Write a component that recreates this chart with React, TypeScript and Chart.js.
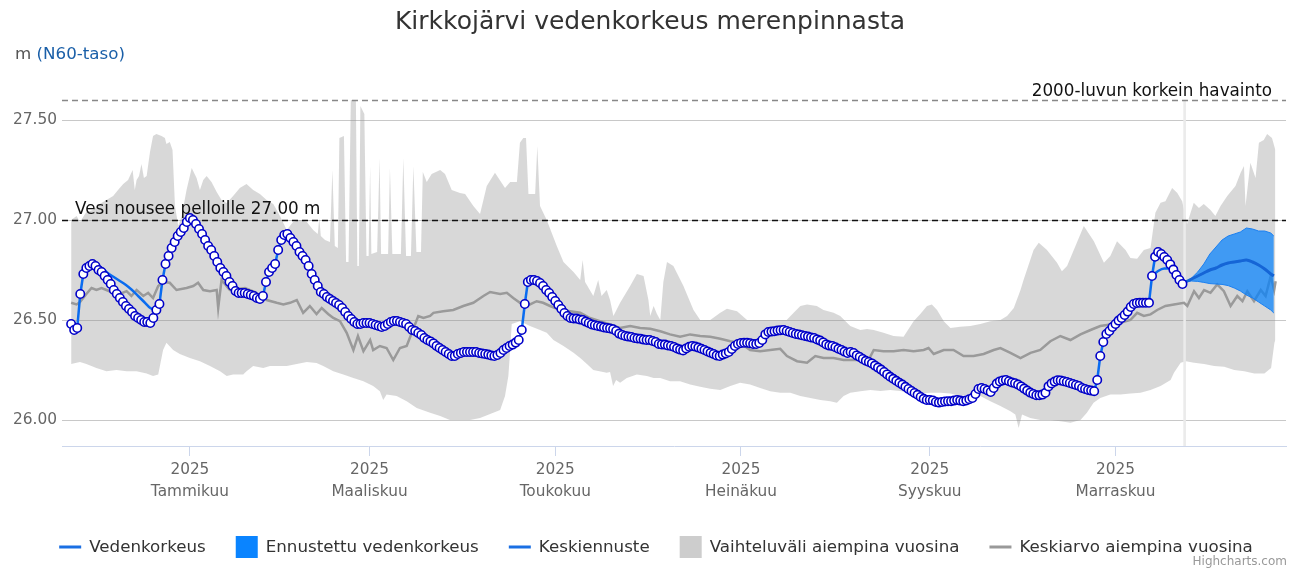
import React, { useEffect, useRef } from 'react';
import { Chart, registerables } from 'chart.js';

Chart.register(...registerables);

const FONT = '"DejaVu Sans", Verdana, sans-serif';

// x values are days counted from 1.1.2025 (day 0)
const titleText = 'Kirkkojärvi vedenkorkeus merenpinnasta';
const unitText = 'm ';
const unitRefText = '(N60-taso)';

const tickDays = [0, 59, 120, 181, 243, 304];
const tickYears = ['2025', '2025', '2025', '2025', '2025', '2025'];
const tickMonths = ['Tammikuu', 'Maaliskuu', 'Toukokuu', 'Heinäkuu', 'Syyskuu', 'Marraskuu'];
const yTicks = [26.0, 26.5, 27.0, 27.5];

const floodLevel = 27.0;
const floodLabel = 'Vesi nousee pelloille 27.00 m';
const recordLevel = 27.6;
const recordLabel = '2000-luvun korkein havainto';
const nowDay = 326.7;

// Observed daily water level, first value 23.11.2024 (day -39)
const obsStartDay = -39;
const obsVals = [
  26.48, 26.45, 26.46, 26.63, 26.73, 26.76, 26.77, 26.78, 26.77, 26.75,
  26.74, 26.72, 26.70, 26.68, 26.65, 26.63, 26.61, 26.59, 26.57, 26.555,
  26.54, 26.52, 26.51, 26.50, 26.49, 26.49, 26.485, 26.51, 26.55, 26.58,
  26.70, 26.78, 26.82, 26.86, 26.89, 26.92, 26.94, 26.96, 26.99, 27.01,
  27.00, 26.98, 26.955, 26.93, 26.90, 26.87, 26.85, 26.82, 26.79, 26.76,
  26.74, 26.72, 26.69, 26.67, 26.645, 26.635, 26.635, 26.635, 26.63, 26.625,
  26.62, 26.61, 26.605, 26.62, 26.69, 26.74, 26.76, 26.78, 26.85, 26.90,
  26.925, 26.93, 26.91, 26.89, 26.87, 26.84, 26.82, 26.80, 26.77, 26.73,
  26.70, 26.67, 26.64, 26.63, 26.615, 26.605, 26.595, 26.585, 26.575, 26.56,
  26.54, 26.52, 26.505, 26.49, 26.48, 26.48, 26.485, 26.485, 26.485, 26.48,
  26.475, 26.47, 26.465, 26.47, 26.48, 26.49, 26.495, 26.495, 26.49, 26.485,
  26.48, 26.465, 26.45, 26.445, 26.435, 26.425, 26.41, 26.40, 26.393, 26.383,
  26.37, 26.36, 26.35, 26.34, 26.33, 26.32, 26.32, 26.33, 26.335, 26.34,
  26.34, 26.34, 26.34, 26.34, 26.335, 26.333, 26.33, 26.327, 26.323, 26.32,
  26.325, 26.335, 26.35, 26.36, 26.37, 26.377, 26.387, 26.40, 26.45, 26.58,
  26.69, 26.70, 26.70, 26.695, 26.685, 26.67, 26.65, 26.635, 26.615, 26.595,
  26.575, 26.555, 26.535, 26.52, 26.51, 26.508, 26.507, 26.503, 26.50, 26.492,
  26.485, 26.478, 26.474, 26.47, 26.467, 26.463, 26.46, 26.458, 26.454, 26.445,
  26.432, 26.425, 26.42, 26.417, 26.415, 26.41, 26.408, 26.406, 26.402, 26.40,
  26.40, 26.395, 26.39, 26.38, 26.378, 26.377, 26.373, 26.37, 26.365, 26.358,
  26.352, 26.348, 26.358, 26.366, 26.37, 26.367, 26.362, 26.356, 26.35, 26.343,
  26.336, 26.33, 26.323, 26.32, 26.327, 26.333, 26.34, 26.355, 26.37, 26.38,
  26.385, 26.386, 26.386, 26.384, 26.38, 26.38, 26.385, 26.40, 26.428, 26.44,
  26.442, 26.444, 26.447, 26.449, 26.45, 26.445, 26.44, 26.435, 26.43, 26.428,
  26.424, 26.42, 26.417, 26.413, 26.41, 26.403, 26.397, 26.388, 26.378, 26.372,
  26.37, 26.364, 26.356, 26.35, 26.342, 26.335, 26.34, 26.335, 26.323, 26.315,
  26.305, 26.296, 26.29, 26.283, 26.272, 26.262, 26.252, 26.24, 26.228, 26.216,
  26.206, 26.196, 26.186, 26.177, 26.166, 26.155, 26.145, 26.135, 26.126, 26.115,
  26.106, 26.10, 26.10, 26.098, 26.09, 26.087, 26.09, 26.093, 26.094, 26.094,
  26.097, 26.10, 26.097, 26.094, 26.098, 26.104, 26.11, 26.13, 26.155, 26.16,
  26.155, 26.148, 26.14, 26.16, 26.182, 26.193, 26.198, 26.20, 26.194, 26.188,
  26.184, 26.177, 26.168, 26.157, 26.147, 26.137, 26.13, 26.124, 26.124, 26.127,
  26.136, 26.168, 26.183, 26.192, 26.199, 26.198, 26.194, 26.19, 26.185, 26.18,
  26.175, 26.17, 26.16, 26.155, 26.15, 26.147, 26.144, 26.20, 26.32, 26.39,
  26.43, 26.445, 26.465, 26.48, 26.497, 26.51, 26.525, 26.542, 26.565, 26.58,
  26.585, 26.586, 26.586, 26.586, 26.586, 26.72, 26.816, 26.84, 26.83, 26.815,
  26.80, 26.778, 26.752, 26.725, 26.70, 26.68,
];

// Parts of the observed line that run apart from the daily markers [day, m]
const obsLinePartA: [number, number][] = [
  [-32, 26.78], [-31, 26.775], [-29, 26.76], [-27, 26.735], [-25, 26.715], [-23, 26.695],
  [-21, 26.675], [-19, 26.65], [-17, 26.62], [-15, 26.59], [-13, 26.56], [-11, 26.55],
];
const obsLinePartB: [number, number][] = [
  [316, 26.72], [318, 26.745], [320, 26.757], [322, 26.757], [324, 26.74], [326, 26.70], [327, 26.69],
];

// Forecast
const fcDays = [327, 329, 331, 333, 335, 337, 339, 341, 343, 345, 347, 349, 351, 353, 355, 356];
const fcHigh = [26.69, 26.71, 26.74, 26.78, 26.83, 26.865, 26.90, 26.92, 26.93, 26.94, 26.96, 26.955, 26.945, 26.945, 26.935, 26.92];
const fcLow = [26.69, 26.695, 26.693, 26.688, 26.682, 26.68, 26.678, 26.672, 26.66, 26.645, 26.625, 26.61, 26.59, 26.57, 26.55, 26.535];
const fcMid = [26.69, 26.705, 26.72, 26.735, 26.75, 26.76, 26.775, 26.785, 26.79, 26.795, 26.80, 26.79, 26.775, 26.755, 26.73, 26.72];

// Range in earlier years: upper edge [day, m]
const rangeHigh: [number, number][] = [
  [-39, 27.00], [-37.2, 27.02], [-36.1, 26.99], [-34, 27.04], [-31.8, 27.05], [-29.6, 27.08],
  [-27.4, 27.10], [-25.2, 27.12], [-23.6, 27.15], [-21.9, 27.18], [-20.3, 27.20], [-18.8, 27.25],
  [-18.1, 27.15], [-17.5, 27.20], [-16.7, 27.22], [-15.9, 27.28], [-15.1, 27.21], [-14.2, 27.22],
  [-13.1, 27.34], [-12.1, 27.42], [-11, 27.43], [-9.3, 27.42], [-8.2, 27.41], [-7.7, 27.38],
  [-6.6, 27.39], [-5.7, 27.35], [-4.9, 27.07], [-3.8, 26.97], [-2.7, 27.02], [-1.1, 27.15],
  [0.6, 27.26], [2.2, 27.21], [3.3, 27.15], [4.4, 27.20], [5.5, 27.22], [7.1, 27.19],
  [8.8, 27.14], [10.4, 27.10], [12.1, 27.085], [14.2, 27.12], [16.4, 27.16], [18.6, 27.18],
  [20.8, 27.15], [23, 27.13], [25.2, 27.10], [27.4, 27.08], [29.6, 27.02], [31.8, 26.95],
  [33.9, 26.99], [36.1, 27.00], [38.4, 26.99], [40.5, 26.95], [42, 26.93], [42.5, 27.01],
  [43, 26.92], [44.4, 26.90], [46, 26.89], [46.8, 27.25], [47.6, 26.87], [48.6, 26.86],
  [49.1, 27.41], [50.6, 27.42], [51.3, 26.79], [52.1, 26.79], [52.9, 27.65], [54.5, 27.65],
  [55, 26.77], [55.5, 26.77], [56, 27.57], [57.3, 27.53], [58, 26.82], [58.7, 26.82],
  [59.2, 27.27], [59.6, 26.83], [61.5, 26.84], [62.3, 27.31], [62.8, 26.83], [65.1, 26.83],
  [65.7, 27.26], [66.5, 26.83], [69.3, 26.83], [70.1, 27.31], [71, 26.82], [72.6, 26.82],
  [73.4, 27.27], [74.4, 26.84], [75.9, 26.84], [76.5, 27.24], [77.8, 27.19], [79.4, 27.23],
  [82.2, 27.25], [83.8, 27.23], [86, 27.15], [88.7, 27.135], [90.4, 27.13], [93.1, 27.07],
  [95.3, 27.03], [96.4, 27.10], [97.5, 27.17], [100.2, 27.236], [103.5, 27.16], [105.2, 27.19],
  [107.4, 27.19], [108.4, 27.386], [109.5, 27.41], [110.4, 27.41], [111.2, 27.13], [113.4, 27.13],
  [114.1, 27.37], [115, 27.07], [117.2, 27.00], [120.5, 26.87], [122.7, 26.79], [126, 26.74],
  [128.2, 26.70], [129, 26.80], [129.8, 26.69], [132.5, 26.62], [134.1, 26.70], [135.2, 26.62],
  [136.9, 26.65], [138, 26.60], [139.1, 26.52], [141.3, 26.586], [144.6, 26.67], [146.8, 26.73],
  [149, 26.72], [150.6, 26.60], [151.2, 26.52], [152.3, 26.57], [153.4, 26.53], [154.5, 26.50],
  [155.5, 26.69], [156.7, 26.79], [158.8, 26.77], [162.1, 26.67], [165.4, 26.55], [167.6, 26.50],
  [170.9, 26.50], [174.2, 26.536], [176.4, 26.556], [179.7, 26.544], [183, 26.50], [196, 26.50],
  [198.3, 26.536], [200.5, 26.57], [202.7, 26.578], [205.9, 26.57], [208.1, 26.55], [211.4, 26.536],
  [213.6, 26.52], [216.9, 26.47], [220.2, 26.45], [222.4, 26.455], [224.6, 26.45], [227.8, 26.436],
  [231.1, 26.42], [234.4, 26.416], [237.7, 26.494], [239.9, 26.53], [242.1, 26.57], [243.7, 26.578],
  [245.4, 26.55], [247.6, 26.494], [249.8, 26.46], [253, 26.466], [256.3, 26.47], [259.6, 26.48],
  [262.9, 26.494], [266.2, 26.50], [268.4, 26.52], [270.6, 26.56], [272.8, 26.65], [273.8, 26.70],
  [277.1, 26.85], [278.8, 26.886], [281.5, 26.85], [284.8, 26.786], [286.4, 26.744], [288.1, 26.77],
  [290.3, 26.85], [293.6, 26.97], [296.9, 26.894], [300.2, 26.786], [302.3, 26.82], [304.5, 26.894],
  [307.3, 26.85], [308.9, 26.81], [311.1, 26.806], [313.3, 26.85], [315.5, 26.86], [317.1, 27.036],
  [318.8, 27.086], [320.4, 27.094], [322.6, 27.16], [324.3, 27.135], [325.9, 27.094], [327.5, 26.98],
  [329.7, 27.086], [331.4, 27.06], [333, 27.08], [335.2, 27.05], [336.8, 27.02], [338.5, 27.07],
  [340.7, 27.12], [343.4, 27.17], [345.1, 27.236], [346.2, 27.27], [346.7, 27.07], [348.3, 27.286],
  [350, 27.21], [351.1, 27.386], [352.7, 27.40], [353.8, 27.43], [355.4, 27.41], [356.5, 27.35],
];

// Range in earlier years: lower edge [day, m]
const rangeLow: [number, number][] = [
  [-39, 26.28], [-36.1, 26.29], [-34, 26.28], [-30.7, 26.26], [-27.4, 26.244], [-24.1, 26.25],
  [-20.8, 26.244], [-17.5, 26.244], [-14.2, 26.233], [-12.1, 26.22], [-10.4, 26.228], [-8.8, 26.35],
  [-7.7, 26.386], [-5.5, 26.35], [-3.3, 26.33], [0, 26.31], [3.3, 26.294], [6.6, 26.27],
  [9.9, 26.244], [12.1, 26.22], [14.2, 26.228], [17.5, 26.228], [18.6, 26.244], [20.8, 26.27],
  [24.1, 26.26], [26.3, 26.27], [29.6, 26.27], [31.8, 26.27], [35.1, 26.28], [38.4, 26.29],
  [41.6, 26.285], [43.8, 26.27], [47.1, 26.244], [50.4, 26.228], [53.7, 26.21], [57, 26.194],
  [60.2, 26.17], [62.4, 26.144], [63.5, 26.10], [64.6, 26.128], [67.9, 26.12], [71.2, 26.094],
  [74.5, 26.06], [78.9, 26.036], [82.2, 26.02], [85.4, 26.00], [88.7, 26.00], [92, 26.00],
  [95.3, 26.01], [98.6, 26.03], [101.9, 26.05], [103.5, 26.12], [104.6, 26.22], [105.2, 26.35],
  [105.7, 26.48], [108.4, 26.494], [111.7, 26.47], [115, 26.45], [117.2, 26.436], [119.4, 26.40],
  [122.7, 26.37], [126, 26.336], [128.2, 26.31], [130.4, 26.28], [132.5, 26.25], [136.9, 26.236],
  [138, 26.24], [139, 26.17], [140, 26.20], [141.3, 26.186], [143.5, 26.21], [146.8, 26.228],
  [150.1, 26.22], [152.3, 26.21], [154.5, 26.21], [157.7, 26.194], [161, 26.194], [164.3, 26.178],
  [167.6, 26.166], [170.9, 26.156], [174.2, 26.15], [177.5, 26.17], [180.7, 26.186], [184, 26.178],
  [187.3, 26.16], [190.6, 26.144], [193.9, 26.136], [197.2, 26.136], [200.5, 26.12], [203.8, 26.11],
  [207.1, 26.10], [210.3, 26.094], [212.5, 26.086], [214.7, 26.12], [216.9, 26.136], [220.2, 26.144],
  [223.5, 26.15], [226.8, 26.145], [230, 26.15], [233.3, 26.145], [236.6, 26.136], [239.9, 26.133],
  [243.2, 26.136], [246.5, 26.136], [249.8, 26.133], [253, 26.12], [256.3, 26.128], [259.6, 26.12],
  [262.9, 26.094], [266.2, 26.07], [269.5, 26.044], [271.1, 26.028], [272.2, 25.96], [273.3, 26.028],
  [276, 26.01], [279.3, 26.00], [282.6, 26.00], [285.9, 25.994], [289.2, 25.986], [292.5, 26.00],
  [294.6, 26.036], [296.8, 26.086], [299, 26.11], [302.3, 26.128], [305.6, 26.128], [308.9, 26.133],
  [312.2, 26.136], [315.5, 26.15], [318.8, 26.17], [322.1, 26.20], [323.2, 26.236], [325.4, 26.286],
  [327.1, 26.294], [329.8, 26.286], [333.1, 26.28], [336.4, 26.27], [339.7, 26.266], [343, 26.25],
  [346.3, 26.244], [349.6, 26.233], [352.9, 26.233], [355.1, 26.26], [356.2, 26.386], [356.5, 26.40],
];

// Mean of earlier years [day, m]
const meanLine: [number, number][] = [
  [-39, 26.586], [-37.2, 26.578], [-36.1, 26.59], [-34, 26.63], [-32.3, 26.66], [-30.7, 26.65],
  [-29, 26.66], [-27.4, 26.65], [-25.2, 26.636], [-23, 26.63], [-20.8, 26.644], [-19.2, 26.62],
  [-17.5, 26.65], [-15.3, 26.62], [-13.7, 26.636], [-12.1, 26.61], [-10.4, 26.67], [-8.8, 26.69],
  [-6.6, 26.686], [-4.4, 26.65], [-1.1, 26.66], [1.1, 26.67], [2.7, 26.686], [4.4, 26.65],
  [6.6, 26.644], [8.8, 26.65], [9.3, 26.56], [10.4, 26.70], [13.1, 26.65], [18.1, 26.66],
  [21.4, 26.64], [25.2, 26.60], [28.5, 26.586], [30.7, 26.578], [32.9, 26.586], [35.1, 26.60],
  [37.2, 26.536], [39.4, 26.57], [41.6, 26.53], [43.3, 26.56], [45.4, 26.53], [47.1, 26.51],
  [49.3, 26.494], [51.5, 26.436], [53.7, 26.35], [55.2, 26.42], [57, 26.344], [59.2, 26.40],
  [60.2, 26.35], [62.4, 26.37], [64.6, 26.36], [66.8, 26.30], [69, 26.36], [71.2, 26.37],
  [72.9, 26.436], [75, 26.52], [76.7, 26.51], [78.9, 26.52], [80, 26.536], [83.2, 26.544],
  [86.5, 26.55], [89.8, 26.57], [93.1, 26.586], [96.4, 26.62], [98.6, 26.64], [101.9, 26.63],
  [104.1, 26.636], [106.2, 26.61], [108.4, 26.586], [111.7, 26.578], [113.9, 26.594], [116, 26.586],
  [118.3, 26.57], [121.6, 26.55], [124.9, 26.544], [128.2, 26.536], [131.4, 26.51], [134.7, 26.494],
  [138, 26.478], [141.3, 26.46], [144.6, 26.47], [147.9, 26.46], [151.2, 26.456], [154.5, 26.444],
  [157.7, 26.428], [161, 26.416], [164.3, 26.428], [167.6, 26.42], [170.9, 26.416], [174.2, 26.406],
  [177.5, 26.394], [180.7, 26.386], [184, 26.35], [187.3, 26.344], [190.6, 26.35], [193.9, 26.356],
  [196.1, 26.32], [199.4, 26.294], [202.7, 26.286], [205.4, 26.32], [208.1, 26.31], [211.4, 26.31],
  [214.7, 26.30], [216.9, 26.30], [220.2, 26.30], [222.4, 26.286], [224.6, 26.35], [227.8, 26.344],
  [231.1, 26.344], [234.4, 26.35], [237.7, 26.344], [241, 26.35], [242.6, 26.36], [244.3, 26.33],
  [247.6, 26.35], [250.8, 26.35], [254.1, 26.32], [257.4, 26.32], [260.7, 26.33], [264, 26.35],
  [266.2, 26.36], [269.5, 26.336], [272.8, 26.31], [276.1, 26.336], [279.3, 26.35], [282.6, 26.394],
  [285.9, 26.42], [289.2, 26.40], [292.5, 26.428], [295.8, 26.45], [299, 26.47], [302.3, 26.478],
  [305.6, 26.486], [308.9, 26.50], [311.1, 26.536], [313.3, 26.52], [315.5, 26.528], [317.7, 26.55],
  [320.4, 26.57], [323.2, 26.578], [326.5, 26.586], [327.6, 26.57], [329.8, 26.644], [331.4, 26.61],
  [333.1, 26.65], [335.2, 26.636], [337.4, 26.678], [339.6, 26.644], [341.8, 26.57], [344, 26.62],
  [345.7, 26.594], [347.3, 26.644], [349.5, 26.594], [351.7, 26.65], [353.3, 26.62], [355, 26.72],
  [356.1, 26.65], [356.6, 26.694],
];

const legendEntries = [
  { text: 'Vedenkorkeus', kind: 'line', color: '#1a6fe3' },
  { text: 'Ennustettu vedenkorkeus', kind: 'box', color: '#0a84ff' },
  { text: 'Keskiennuste', kind: 'line', color: '#1a6fe3' },
  { text: 'Vaihteluväli aiempina vuosina', kind: 'box', color: '#cdcdcd' },
  { text: 'Keskiarvo aiempina vuosina', kind: 'line', color: '#999999' },
];

const RANGE_LOW_INDEX = 7;

const toXY = (pairs: [number, number][]) => pairs.map(([x, y]) => ({ x, y }));

const decorPlugin = {
  id: 'decor',
  afterDatasetDraw(chart: any, args: any) {
    if (args.index !== RANGE_LOW_INDEX) return;
    const { ctx, chartArea: a, scales } = chart;
    const xs = scales.x;
    const ys = scales.y;
    ctx.save();
    // current day line
    const nx = xs.getPixelForValue(nowDay);
    ctx.strokeStyle = '#ebebeb';
    ctx.lineWidth = 2.6;
    ctx.beginPath();
    ctx.moveTo(nx, a.top);
    ctx.lineTo(nx, a.bottom);
    ctx.stroke();
    // flood level
    const fy = Math.round(ys.getPixelForValue(floodLevel)) + 0.5;
    ctx.setLineDash([6, 4]);
    ctx.lineWidth = 1.4;
    ctx.strokeStyle = '#111111';
    ctx.beginPath();
    ctx.moveTo(a.left, fy);
    ctx.lineTo(a.right, fy);
    ctx.stroke();
    // record level
    const ry = Math.round(ys.getPixelForValue(recordLevel)) + 0.5;
    ctx.strokeStyle = '#888888';
    ctx.beginPath();
    ctx.moveTo(a.left, ry);
    ctx.lineTo(a.right, ry);
    ctx.stroke();
    ctx.restore();
  },
  afterDraw(chart: any) {
    const { ctx, chartArea: a, scales } = chart;
    const ys = scales.y;
    ctx.save();
    ctx.textBaseline = 'alphabetic';
    // title
    ctx.font = `25px ${FONT}`;
    ctx.fillStyle = '#333333';
    ctx.textAlign = 'center';
    ctx.fillText(titleText, 650, 29);
    // axis title
    ctx.font = `16.7px ${FONT}`;
    ctx.textAlign = 'left';
    ctx.fillStyle = '#555555';
    ctx.fillText(unitText, 15, 59);
    const uw = ctx.measureText(unitText).width;
    ctx.fillStyle = '#1a5fa8';
    ctx.fillText(unitRefText, 15 + uw, 59);
    // plot line labels
    ctx.font = `16.8px ${FONT}`;
    ctx.fillStyle = '#111111';
    ctx.fillText(floodLabel, a.left + 13, ys.getPixelForValue(floodLevel) - 6);
    ctx.textAlign = 'right';
    ctx.fillText(recordLabel, a.right - 14, ys.getPixelForValue(recordLevel) - 4);
    // legend
    ctx.font = `16.7px ${FONT}`;
    const symW = 22;
    const gap = 8;
    const itemGap = 30;
    const widths = legendEntries.map((e) => symW + gap + ctx.measureText(e.text).width);
    const total = widths.reduce((s, w) => s + w, 0) + itemGap * (legendEntries.length - 1);
    let lx = 656 - total / 2;
    const ly = 547;
    ctx.textAlign = 'left';
    ctx.textBaseline = 'middle';
    legendEntries.forEach((e, i) => {
      if (e.kind === 'line') {
        ctx.strokeStyle = e.color;
        ctx.lineWidth = 3;
        ctx.beginPath();
        ctx.moveTo(lx, ly);
        ctx.lineTo(lx + symW, ly);
        ctx.stroke();
      } else {
        ctx.fillStyle = e.color;
        ctx.fillRect(lx, ly - 11, symW, 22);
      }
      ctx.fillStyle = '#333333';
      ctx.fillText(e.text, lx + symW + gap, ly + 1);
      lx += widths[i] + itemGap;
    });
    // credits
    ctx.textBaseline = 'alphabetic';
    ctx.textAlign = 'right';
    ctx.font = `12px ${FONT}`;
    ctx.fillStyle = '#999999';
    ctx.fillText('Highcharts.com', 1287, 565);
    ctx.restore();
  },
};

export default function App() {
  const canvasRef = useRef<HTMLCanvasElement | null>(null);

  useEffect(() => {
    const canvas = canvasRef.current;
    if (!canvas) return;

    const obsData = obsVals.map((v, i) => ({ x: obsStartDay + i, y: v }));
    const altData = [...toXY(obsLinePartA), { x: 100, y: null as any }, ...toXY(obsLinePartB)];

    const chart = new Chart(canvas, {
      type: 'line',
      data: {
        datasets: [
          {
            label: 'Vedenkorkeus',
            data: obsData,
            borderColor: '#0a6cf0',
            borderWidth: 2.5,
            pointRadius: 4.2,
            pointBorderWidth: 1.6,
            pointBorderColor: '#0000c8',
            pointBackgroundColor: '#ffffff',
            fill: false,
            order: 0,
          },
          {
            label: 'Vedenkorkeus (viiva)',
            data: altData,
            borderColor: '#0a6cf0',
            borderWidth: 2.5,
            pointRadius: 0,
            cubicInterpolationMode: 'monotone',
            fill: false,
            order: 1,
          },
          {
            label: 'Keskiennuste',
            data: fcDays.map((d, i) => ({ x: d, y: fcMid[i] })),
            borderColor: '#1565d6',
            borderWidth: 3,
            pointRadius: 0,
            tension: 0.3,
            fill: false,
            order: 2,
          },
          {
            label: 'Ennuste ylä',
            data: fcDays.map((d, i) => ({ x: d, y: fcHigh[i] })),
            borderColor: '#1a7ff0',
            borderWidth: 1,
            pointRadius: 0,
            fill: false,
            order: 3,
          },
          {
            label: 'Ennustettu vedenkorkeus',
            data: fcDays.map((d, i) => ({ x: d, y: fcLow[i] })),
            borderColor: '#1a7ff0',
            borderWidth: 1,
            pointRadius: 0,
            backgroundColor: 'rgba(0,128,255,0.7)',
            fill: 3,
            order: 4,
          },
          {
            label: 'Keskiarvo aiempina vuosina',
            data: toXY(meanLine),
            borderColor: '#9a9a9a',
            borderWidth: 2.5,
            pointRadius: 0,
            fill: false,
            order: 5,
          },
          {
            label: 'Vaihteluväli ylä',
            data: toXY(rangeHigh),
            borderWidth: 0,
            borderColor: 'rgba(0,0,0,0)',
            pointRadius: 0,
            fill: false,
            order: 7,
          },
          {
            label: 'Vaihteluväli aiempina vuosina',
            data: toXY(rangeLow),
            borderWidth: 0,
            borderColor: 'rgba(0,0,0,0)',
            pointRadius: 0,
            backgroundColor: 'rgba(140,140,140,0.34)',
            fill: 6,
            order: 6,
          },
        ],
      },
      options: {
        animation: false,
        responsive: false,
        devicePixelRatio: 1,
        events: [],
        layout: { padding: { top: 100, right: 8, bottom: 62, left: 0 } },
        plugins: {
          legend: { display: false },
          tooltip: { enabled: false },
          title: { display: false },
        },
        scales: {
          x: {
            type: 'linear',
            min: -42,
            max: 360,
            afterBuildTicks: (s: any) => {
              s.ticks = tickDays.map((v) => ({ value: v }));
            },
            afterFit: (s: any) => {
              s.height = 60;
            },
            ticks: {
              autoSkip: false,
              maxRotation: 0,
              padding: 3,
              color: '#666666',
              font: { family: FONT, size: 15.3, lineHeight: 1.45 },
              callback: (_v: any, i: number) => [tickYears[i], tickMonths[i]],
            },
            grid: { drawOnChartArea: false, drawTicks: true, tickLength: 10, color: '#ccd6eb' },
            border: { display: true, color: '#ccd6eb', width: 1 },
          },
          y: {
            type: 'linear',
            min: 25.87,
            max: 27.6,
            afterBuildTicks: (s: any) => {
              s.ticks = yTicks.map((v) => ({ value: v }));
            },
            afterFit: (s: any) => {
              s.width = 62;
            },
            ticks: {
              padding: 5,
              color: '#666666',
              font: { family: FONT, size: 15.4 },
              callback: (v: any) => Number(v).toFixed(2),
            },
            grid: { color: '#c8c8c8', drawTicks: false, lineWidth: 1 },
            border: { display: false },
          },
        },
      } as any,
      plugins: [decorPlugin],
    });

    return () => {
      chart.destroy();
    };
  }, []);

  return (
    <div style={{ position: 'fixed', left: 0, top: 0, width: 1294, height: 568, background: '#ffffff' }}>
      <canvas ref={canvasRef} width={1294} height={568} style={{ display: 'block' }} />
    </div>
  );
}
